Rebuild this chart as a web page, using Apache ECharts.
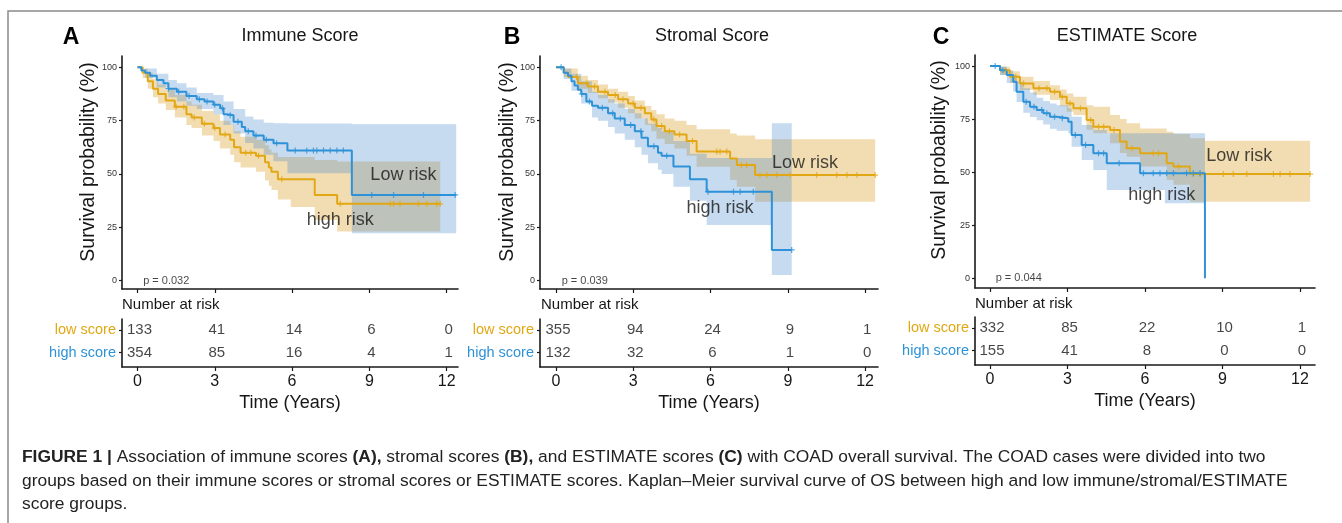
<!DOCTYPE html>
<html>
<head>
<meta charset="utf-8">
<script src="https://cdn.jsdelivr.net/npm/echarts@6/dist/echarts.min.js"></script>
<style>
  html, body { margin: 0; padding: 0; background: #fff; }
  #chart { width: 1342px; height: 523px; }
</style>
</head>
<body>
<div id="chart"></div>
<script>
// Kaplan-Meier curves: [years, survival %] at each drop
const immuneLowCurve = [[0,100],[0.2,97.5],[0.4,93.5],[0.6,90],[0.8,87.5],[1.1,84.5],[1.45,81.5],[1.9,78],[2.1,76.5],[2.5,73.5],[2.95,71.5],[3.2,68.5],[3.6,66],[3.75,62.5],[4.0,60],[4.6,58.5],[4.95,55.5],[5.1,53],[5.2,51],[5.45,47.5],[6.88,40.2],[7.75,36]]
const immuneHighCurve = [[0,100],[0.15,98.5],[0.3,97.5],[0.49,96],[0.75,94],[1.01,92.5],[1.2,90],[1.53,88.5],[1.9,86.5],[2.3,85],[2.6,84],[2.95,82.5],[3.21,80.8],[3.34,78],[3.47,77.5],[3.73,74.5],[4.05,72],[4.18,70],[4.5,68],[4.9,66],[5.28,64.4],[5.82,61],[8.32,40.2]]
const stromalLowCurve = [[0,100],[0.3,97.5],[0.47,95.5],[0.85,92.5],[1.24,91],[1.63,88.5],[2.02,87],[2.41,85],[2.8,83],[3.06,81],[3.45,78.5],[3.7,75.5],[3.9,72.5],[4.22,70],[4.6,68.5],[5.07,65.5],[5.46,60.5],[6.76,57.3],[7.02,54.2],[7.73,49.5]]
const stromalHighCurve = [[0,100],[0.3,97.5],[0.47,96],[0.6,93.5],[0.72,91.5],[0.85,89.5],[0.98,87.5],[1.18,84],[1.4,82],[1.63,81],[2.02,78.5],[2.28,76],[2.67,73],[3.06,70],[3.32,67],[3.57,63],[3.96,60],[4.1,58.5],[4.56,53.5],[5.2,47.5],[5.85,41.7],[8.38,14.4]]
const estimateLowCurve = [[0,100],[0.39,98],[0.77,95],[1.16,91.8],[1.68,89.5],[2.32,87.9],[2.71,85.5],[2.97,82.4],[3.23,80.1],[3.74,74.6],[4.0,71.4],[4.65,69.9],[5.03,64.4],[5.29,61.2],[5.81,58.9],[6.84,54.2],[7.1,52.6],[7.74,49.1]]
const estimateHighCurve = [[0,100],[0.39,98],[0.65,95.8],[0.9,92.6],[1.03,87.9],[1.29,83.2],[1.55,80.8],[1.81,79.3],[2.06,77.7],[2.32,76.1],[2.58,75.4],[3.03,73.8],[3.16,67.5],[3.55,62.8],[4.0,58.9],[4.52,54.2],[5.81,49.5],[8.32,0]]

// last follow-up time of each curve
const immuneLowEnd = 11.75, immuneHighEnd = 12.37
const stromalLowEnd = 12.39, stromalHighEnd = 9.15
const estimateLowEnd = 12.39, estimateHighEnd = 8.32

// confidence bands: [years, lower %, upper %]
const immuneLowBand = [[0,100,100],[0.2,95,99.5],[0.4,90,97.5],[0.6,86,94.5],[0.8,83,92],[1.1,80,89.5],[1.45,76.5,87],[1.9,73,84],[2.1,71.5,82.5],[2.5,68,79.5],[2.95,65.5,78],[3.2,62,75],[3.6,59,73],[3.75,55.5,70],[4.0,53,67.5],[4.6,51,66],[4.95,47,63.5],[5.1,44.5,61.5],[5.2,42.5,60],[5.45,38,58],[5.95,34.5,58],[6.88,28.4,56.5],[7.75,23,55.8]]
const immuneHighBand = [[0,100,100],[0.3,95,99.5],[0.75,90.5,97],[1.2,86,94],[1.53,84,92.5],[1.9,82,90.5],[2.3,80.5,88],[2.95,78,87],[3.34,73,84],[3.73,69,80.5],[4.18,64.5,77],[4.5,62,75.5],[4.9,59,74],[5.28,56,73.8],[5.82,50.3,73.7],[8.32,22.2,73.3]]
const stromalLowBand = [[0,100,100],[0.3,95.5,99.5],[0.85,90,96],[1.24,88,94],[1.63,85.5,92],[2.02,83.5,90],[2.41,81,88.5],[2.8,78.5,86.5],[3.06,76,84.5],[3.45,73,82],[3.7,70,80],[3.9,66.5,78],[4.22,64,76],[4.6,62,75],[5.07,58.5,73],[5.46,53.4,71],[6.76,47.2,69],[7.02,44,68],[7.73,37,66.25]]
const stromalHighBand = [[0,100,100],[0.3,94.5,99.5],[0.6,89,97],[0.98,83,93.5],[1.4,76.5,88.5],[1.63,75,87],[2.02,72,85],[2.28,69,83],[2.67,66,80.5],[3.06,62.5,78.5],[3.32,59,76],[3.57,55,73.5],[3.96,52,71.5],[4.1,50,70],[4.56,44,65.5],[5.2,37.5,59.5],[5.85,26.1,57.5],[8.38,2.7,73.75]]
const estimateLowBand = [[0,100,100],[0.39,95.8,99.7],[0.77,92,97.5],[1.16,88.7,95],[1.68,86.5,93],[2.32,84,91],[2.71,81,89],[2.97,78.5,87],[3.23,76.9,85.5],[3.74,70,81.5],[4.0,68.3,80.8],[4.65,63.6,76.9],[5.03,59,75],[5.29,57.3,73],[5.81,52.6,70.6],[6.84,46.3,69],[7.1,44,68],[7.74,36.1,66],[8.32,36.1,64.8]]
const estimateHighBand = [[0,100,100],[0.39,95.8,99.8],[0.65,92,98],[0.9,88,95.8],[1.03,83,92.5],[1.29,78,89.5],[1.55,76,87.5],[1.81,74.5,85],[2.06,72.5,83.5],[2.32,70.5,82.4],[2.58,69.5,81.5],[3.03,68.3,80.1],[3.16,62,76.1],[3.55,55.7,72.2],[4.0,51,69.9],[4.52,41.6,68.3],[6.77,35.3,68.3]]

// censoring times (years)
const immuneLowCensor = [1.5,1.8,2.2,2.6,3.0,3.4,4.2,4.4,4.7,5.6,7.87,9.81,9.94,10.19,10.9,11.23,11.62,11.75]
const immuneHighCensor = [1.2,1.6,2.0,2.4,2.7,3.0,3.3,3.6,3.9,4.3,4.6,5.0,5.4,6.12,6.57,6.83,6.96,7.22,7.48,7.74,7.99,9.09,9.94,11.1,12.33]
const stromalLowCensor = [0.8,1.2,1.5,1.9,2.3,2.6,3.0,3.3,3.8,4.1,4.4,4.8,5.3,6.24,6.37,6.63,7.2,7.4,7.92,8.18,8.57,9.09,10.12,10.9,11.29,11.68,12.39]
const stromalHighCensor = [0.2,1.0,1.3,1.8,2.2,2.5,2.9,3.3,3.8,4.3,5.9,6.89,7.15,7.66,9.15]
const estimateLowCensor = [0.6,1.0,1.3,1.9,2.2,2.5,2.8,3.1,3.5,3.9,4.2,4.4,4.8,5.5,6.32,6.52,7.3,7.87,8.13,9.03,9.42,9.94,10.97,11.23,11.61,12.39]
const estimateHighCensor = [0.2,0.5,1.4,1.7,2.0,2.2,2.5,2.8,3.3,3.7,4.2,4.4,5.0,5.94,6.32,6.58,6.84,7.1,7.61,7.87,8.13]

// number at risk table
const riskTimes = [0, 3, 6, 9, 12]
const riskGroups = ['low score', 'high score']
const immuneLowRisk = [133, 41, 14, 6, 0]
const immuneHighRisk = [354, 85, 16, 4, 1]
const stromalLowRisk = [355, 94, 24, 9, 1]
const stromalHighRisk = [132, 32, 6, 1, 0]
const estimateLowRisk = [332, 85, 22, 10, 1]
const estimateHighRisk = [155, 41, 8, 0, 0]

const pValues = ['p = 0.032', 'p = 0.039', 'p = 0.044']
const titles = ['Immune Score', 'Stromal Score', 'ESTIMATE Score']
const letters = ['A', 'B', 'C']

const ORANGE = '#E2A814'
const BLUE = '#2E92D8'
const ORANGE_FILL = '#D48E00'
const BLUE_FILL = '#4184CD'
const FONT = 'Liberation Sans, Arial, sans-serif'
const INK = '#161616'

const panels = [
  {
    low: { curve: immuneLowCurve, end: immuneLowEnd, band: immuneLowBand, censor: immuneLowCensor, risk: immuneLowRisk },
    high: { curve: immuneHighCurve, end: immuneHighEnd, band: immuneHighBand, censor: immuneHighCensor, risk: immuneHighRisk },
    notes: [['Low risk', 10.32, 49.5], ['high risk', 7.87, 28.4]],
    x: [-0.6, 12.44], y: [-3.9, 105.3],
    grid: { left: 122, top: 56, width: 336, height: 233 },
    table: { left: 122, top: 319, width: 336, height: 48 },
    letterAt: [71, 38], titleAt: [300, 36], ylabAt: [89, 162], narAt: [122, 305]
  },
  {
    low: { curve: stromalLowCurve, end: stromalLowEnd, band: stromalLowBand, censor: stromalLowCensor, risk: stromalLowRisk },
    high: { curve: stromalHighCurve, end: stromalHighEnd, band: stromalHighBand, censor: stromalHighCensor, risk: stromalHighRisk },
    notes: [['Low risk', 9.67, 55.3], ['high risk', 6.37, 33.9]],
    x: [-0.62, 12.5], y: [-3.9, 105.3],
    grid: { left: 540, top: 56, width: 338, height: 233 },
    table: { left: 540, top: 319, width: 338, height: 48 },
    letterAt: [512, 38], titleAt: [712, 36], ylabAt: [508, 162], narAt: [541, 305]
  },
  {
    low: { curve: estimateLowCurve, end: estimateLowEnd, band: estimateLowBand, censor: estimateLowCensor, risk: estimateLowRisk },
    high: { curve: estimateHighCurve, end: estimateHighEnd, band: estimateHighBand, censor: estimateHighCensor, risk: estimateHighRisk },
    notes: [['Low risk', 9.65, 57.6], ['high risk', 6.65, 39.2]],
    x: [-0.58, 12.58], y: [-4.6, 105.2],
    grid: { left: 975, top: 55, width: 340, height: 233 },
    table: { left: 975, top: 317, width: 340, height: 48 },
    letterAt: [941, 38], titleAt: [1127, 36], ylabAt: [940, 160], narAt: [975, 304]
  }
]

function survAt(curve, t) {
  let v = curve[0][1]
  curve.forEach(p => { if (p[0] <= t) v = p[1] })
  return v
}

function bandSeries(band, end, color, ax) {
  return {
    type: 'custom',
    xAxisIndex: ax,
    yAxisIndex: ax,
    silent: true,
    z: 1,
    data: band,
    encode: { x: 0, y: [1, 2] },
    renderItem: (params, api) => {
      if (params.dataIndex !== 0) return null
      const top = [], bot = []
      for (let i = 0; i < band.length; i++) {
        const t1 = i + 1 < band.length ? band[i + 1][0] : end
        top.push(api.coord([band[i][0], band[i][2]]), api.coord([t1, band[i][2]]))
        bot.push(api.coord([band[i][0], band[i][1]]), api.coord([t1, band[i][1]]))
      }
      return {
        type: 'polygon',
        shape: { points: top.concat(bot.reverse()) },
        style: { fill: color, opacity: 0.3 }
      }
    }
  }
}

const axisLine = { onZero: false, lineStyle: { color: '#1a1a1a', width: 1.6 } }
const tickStyle = { color: '#1a1a1a', width: 1.2 }
const grids = [], xAxes = [], yAxes = [], series = [], graphic = []

panels.forEach((p, i) => {
  const main = i * 2, tab = i * 2 + 1
  grids.push(Object.assign({ outerBoundsMode: 'none' }, p.grid))
  grids.push(Object.assign({ outerBoundsMode: 'none' }, p.table))

  xAxes.push({
    gridIndex: main, type: 'value', min: p.x[0], max: p.x[1],
    axisLine: axisLine, splitLine: { show: false },
    axisTick: { customValues: riskTimes, length: 4, lineStyle: tickStyle },
    axisLabel: { show: false }
  })
  yAxes.push({
    gridIndex: main, type: 'value', min: p.y[0], max: p.y[1],
    axisLine: axisLine, splitLine: { show: false },
    axisTick: { customValues: [0, 25, 50, 75, 100], length: 3, lineStyle: tickStyle },
    axisLabel: { customValues: [0, 25, 50, 75, 100], fontSize: 9, color: '#333', margin: 5, fontFamily: FONT }
  })

  xAxes.push({
    gridIndex: tab, type: 'value', min: p.x[0], max: p.x[1],
    axisLine: axisLine, splitLine: { show: false },
    axisTick: { customValues: riskTimes, length: 4, lineStyle: tickStyle },
    axisLabel: { customValues: riskTimes, fontSize: 16, color: INK, margin: 7, fontFamily: FONT },
    name: 'Time (Years)', nameLocation: 'middle', nameGap: 27,
    nameTextStyle: { fontSize: 18, color: INK, fontFamily: FONT }
  })
  yAxes.push({
    gridIndex: tab, type: 'value', min: 0.515, max: 2.63, inverse: true,
    axisLine: axisLine, splitLine: { show: false },
    axisTick: { customValues: [1, 2], length: 3, lineStyle: tickStyle },
    axisLabel: {
      customValues: [1, 2], margin: 6,
      formatter: v => (v === 1 ? '{lo|' + riskGroups[0] + '}' : '{hi|' + riskGroups[1] + '}'),
      rich: {
        lo: { color: ORANGE, fontSize: 14.5, fontFamily: FONT },
        hi: { color: BLUE, fontSize: 14.5, fontFamily: FONT }
      }
    }
  })

  // confidence bands
  series.push(bandSeries(p.low.band, p.low.end, ORANGE_FILL, main))
  series.push(bandSeries(p.high.band, p.high.end, BLUE_FILL, main))

  // survival curves + censor marks
  ;[[p.low, ORANGE], [p.high, BLUE]].forEach(([g, color]) => {
    const last = g.curve[g.curve.length - 1]
    series.push({
      type: 'line', xAxisIndex: main, yAxisIndex: main, step: 'end',
      data: g.curve.concat([[g.end, last[1]]]),
      showSymbol: false, silent: true, z: 3,
      lineStyle: { color: color, width: 2 }
    })
    series.push({
      type: 'scatter', xAxisIndex: main, yAxisIndex: main, silent: true, z: 4,
      symbol: 'path://M4,0H6V4H10V6H6V10H4V6H0V4H4Z', symbolSize: 6,
      itemStyle: { color: color },
      data: g.censor.map(t => [t, survAt(g.curve, t)])
    })
  })

  // text inside the plot
  series.push({
    type: 'scatter', xAxisIndex: main, yAxisIndex: main, silent: true, z: 5,
    symbolSize: 0,
    data: p.notes.map(n => ({ name: n[0], value: [n[1], n[2]] })),
    label: {
      show: true, position: [0, 0], align: 'center', verticalAlign: 'middle',
      formatter: '{b}', fontSize: 18, color: INK, fontFamily: FONT
    }
  })
  series.push({
    type: 'scatter', xAxisIndex: main, yAxisIndex: main, silent: true, z: 5,
    symbolSize: 0,
    data: [{ name: pValues[i], value: [0.22, 0] }],
    label: {
      show: true, position: [0, 0], align: 'left', verticalAlign: 'middle',
      formatter: '{b}', fontSize: 11, color: INK, fontFamily: FONT
    }
  })

  // number at risk
  ;[p.low.risk, p.high.risk].forEach((risk, r) => {
    series.push({
      type: 'scatter', xAxisIndex: tab, yAxisIndex: tab, silent: true,
      symbolSize: 0,
      data: risk.map((n, k) => [riskTimes[k], r + 1, n]),
      label: {
        show: true, position: [0, 0], align: 'center', verticalAlign: 'middle', offset: [2, 0],
        formatter: d => String(d.value[2]), fontSize: 15, color: INK, fontFamily: FONT
      }
    })
  })

  graphic.push(
    { type: 'text', x: p.letterAt[0], y: p.letterAt[1], style: { text: letters[i], fontSize: 23, fontWeight: 'bold', fontFamily: FONT, fill: '#000', align: 'center', verticalAlign: 'middle' } },
    { type: 'text', x: p.titleAt[0], y: p.titleAt[1], style: { text: titles[i], fontSize: 18, fontFamily: FONT, fill: INK, align: 'center', verticalAlign: 'middle' } },
    { type: 'text', x: p.ylabAt[0], y: p.ylabAt[1], rotation: Math.PI / 2, style: { text: 'Survival probability (%)', fontSize: 19.5, fontFamily: FONT, fill: INK, align: 'center', verticalAlign: 'middle' } },
    { type: 'text', x: p.narAt[0], y: p.narAt[1], style: { text: 'Number at risk', fontSize: 15, fontFamily: FONT, fill: INK, align: 'left', verticalAlign: 'middle' } }
  )
})

// frame lines and caption
const CAP = 17.4
graphic.push(
  { type: 'polyline', shape: { points: [[8, 523], [8, 11], [1342, 11]] }, style: { stroke: '#8a8a8a', lineWidth: 1.5, fill: null } },
  {
    type: 'text', x: 22, y: 457,
    style: {
      text: '{b|FIGURE 1 |} Association of immune scores {b|(A),} stromal scores {b|(B),} and ESTIMATE scores {b|(C)} with COAD overall survival. The COAD cases were divided into two',
      fontSize: CAP, fontFamily: FONT, fill: '#222', verticalAlign: 'middle',
      rich: { b: { fontWeight: 'bold', fontSize: CAP, fontFamily: FONT, fill: '#222' } }
    }
  },
  { type: 'text', x: 22, y: 481, style: { text: 'groups based on their immune scores or stromal scores or ESTIMATE scores. Kaplan–Meier survival curve of OS between high and low immune/stromal/ESTIMATE', fontSize: CAP, fontFamily: FONT, fill: '#222', verticalAlign: 'middle' } },
  { type: 'text', x: 22, y: 504, style: { text: 'score groups.', fontSize: CAP, fontFamily: FONT, fill: '#222', verticalAlign: 'middle' } }
)

const chart = echarts.init(document.getElementById('chart'))
chart.setOption({
  backgroundColor: '#fff',
  animation: false,
  grid: grids,
  xAxis: xAxes,
  yAxis: yAxes,
  series: series,
  graphic: graphic
})
</script>
</body>
</html>
